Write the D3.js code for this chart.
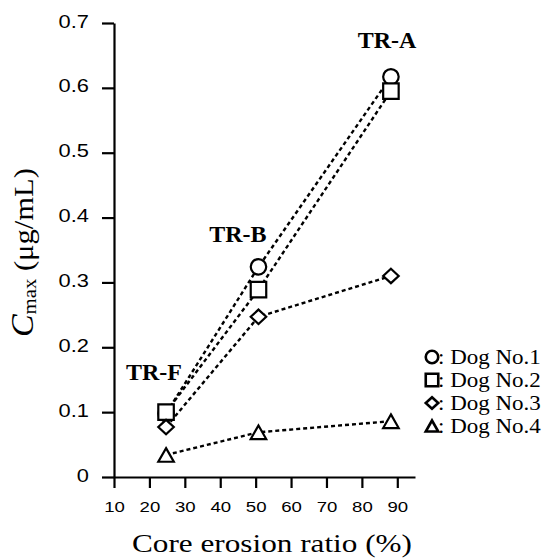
<!DOCTYPE html>
<html>
<head>
<meta charset="utf-8">
<script src="https://cdn.jsdelivr.net/npm/d3@7"></script>
<style>
  body { margin: 0; background: #fff; }
  svg { display: block; }
</style>
</head>
<body>
<script>
// formulations, core erosion ratio (%) for each one
var formulations = ["TR-F", "TR-B", "TR-A"];
var erosionRatio = [24.7, 50.8, 88.2];

// Cmax (ug/mL) per dog, same order as formulations
var dog1 = [0.098, 0.324, 0.617];
var dog2 = [0.100, 0.289, 0.595];
var dog3 = [0.077, 0.247, 0.310];
var dog4 = [0.034, 0.069, 0.086];

var dogNames = ["Dog No.1", "Dog No.2", "Dog No.3", "Dog No.4"];
var dogSymbols = ["circle", "square", "diamond", "triangle"];

var xTicks = [10, 20, 30, 40, 50, 60, 70, 80, 90];
var yTicks = [0, 0.1, 0.2, 0.3, 0.4, 0.5, 0.6, 0.7];

var width = 545, height = 559;
var serif = "'Liberation Serif', 'Times New Roman', serif";
var sans = "'Liberation Sans', Arial, sans-serif";

var svg = d3.select("body").append("svg")
    .attr("width", width)
    .attr("height", height);

var x = d3.scaleLinear().domain([10, 95]).range([114, 415]);
var y = d3.scaleLinear().domain([0, 0.7]).range([477, 23]);

// marker outlines, s = full width
function shapePath(type, s) {
    var h = s / 2;
    if (type === "circle") {
        return "M" + h + ",0A" + h + "," + h + " 0 1,1 " + (-h) + ",0A" + h + "," + h + " 0 1,1 " + h + ",0Z";
    }
    if (type === "square") {
        return "M" + (-h) + "," + (-h) + "H" + h + "V" + h + "H" + (-h) + "Z";
    }
    if (type === "diamond") {
        var v = h * 0.93;
        return "M0," + (-v) + "L" + h + ",0L0," + v + "L" + (-h) + ",0Z";
    }
    // triangle
    var t = h * 0.88;
    return "M0," + (-t) + "L" + h + "," + t + "H" + (-h) + "Z";
}

// ---- axes
var yAxis = d3.axisLeft(y)
    .tickValues(yTicks)
    .tickSize(12)
    .tickSizeOuter(0)
    .tickPadding(13)
    .tickFormat(function(d) { return d === 0 ? "0" : d3.format(".1f")(d); });

var gy = svg.append("g").attr("transform", "translate(114,0)").call(yAxis);
gy.selectAll("text")
    .attr("x", 0)
    .attr("y", -2)
    .attr("transform", "translate(-25,0) scale(1.15,1)")
    .style("font-family", sans)
    .style("font-size", "19px")
    .style("fill", "#000");

var xAxis = d3.axisBottom(x)
    .tickValues(xTicks)
    .tickSize(11)
    .tickSizeOuter(0)
    .tickPadding(13)
    .tickFormat(d3.format("d"));

var gx = svg.append("g").attr("transform", "translate(0,477)").call(xAxis);
gx.selectAll("text")
    .attr("transform", "scale(1.2,1)")
    .style("font-family", sans)
    .style("font-size", "15.5px")
    .style("fill", "#000");

svg.selectAll(".domain, .tick line")
    .attr("stroke", "#000")
    .attr("stroke-width", 2.2);

// ---- series
var dogs = [dog1, dog2, dog3, dog4];
var line = d3.line()
    .x(function(d, i) { return x(erosionRatio[i]); })
    .y(function(d) { return y(d); });

svg.append("g").selectAll("path")
    .data(dogs)
    .enter()
    .append("path")
    .attr("d", line)
    .attr("fill", "none")
    .attr("stroke", "#000")
    .attr("stroke-width", 2.4)
    .attr("stroke-dasharray", "4,3");

dogs.forEach(function(values, k) {
    svg.append("g").selectAll("path")
        .data(values)
        .enter()
        .append("path")
        .attr("transform", function(d, i) { return "translate(" + x(erosionRatio[i]) + "," + y(d) + ")"; })
        .attr("d", shapePath(dogSymbols[k], 15.5))
        .attr("fill", "#fff")
        .attr("stroke", "#000")
        .attr("stroke-width", 2.2);
});

// ---- formulation labels (anchored in data units)
var labelAt = { "TR-F": [21.3, 0.150], "TR-B": [45.0, 0.362], "TR-A": [87.1, 0.661] };
svg.append("g").selectAll("text")
    .data(formulations)
    .enter()
    .append("text")
    .attr("x", function(d) { return x(labelAt[d][0]); })
    .attr("y", function(d) { return y(labelAt[d][1]); })
    .attr("text-anchor", "middle")
    .style("font-family", serif)
    .style("font-weight", "bold")
    .style("font-size", "24px")
    .text(function(d) { return d; });

// ---- legend
var legend = svg.append("g").selectAll("g")
    .data(dogNames)
    .enter()
    .append("g")
    .attr("transform", function(d, i) { return "translate(432," + (357 + i * 23) + ")"; });

legend.append("path")
    .attr("d", function(d, i) { return shapePath(dogSymbols[i], 12.5); })
    .attr("fill", "#fff")
    .attr("stroke", "#000")
    .attr("stroke-width", 2.6);

legend.append("text")
    .attr("transform", "translate(6,7) scale(1.15,1)")
    .style("font-family", serif)
    .style("font-size", "20px")
    .text(function(d) { return ": " + d; });

// ---- axis titles
var xt = svg.append("text")
    .style("font-family", serif)
    .style("font-size", "26px")
    .text("Core erosion ratio (%)");
var xtLen = xt.node().getComputedTextLength();
xt.attr("transform", "translate(132,552) scale(" + (280 / xtLen) + ",1)");

var yt = svg.append("text")
    .style("font-family", serif)
    .style("font-size", "28px");
yt.append("tspan").style("font-style", "italic").style("font-size", "31px").text("C");
yt.append("tspan").attr("dy", 3).style("font-size", "19px").text("max");
yt.append("tspan").attr("dy", -3).text(" (\u03bcg/mL)");
var ytLen = yt.node().getComputedTextLength();
yt.attr("transform", "translate(33,337) rotate(-90) scale(" + (169 / ytLen) + ",1)");
</script>
</body>
</html>
